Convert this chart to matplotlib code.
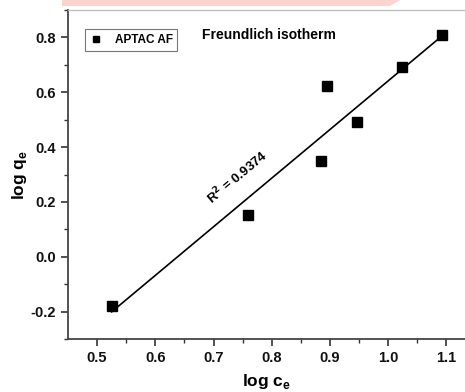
import numpy as np
import matplotlib
matplotlib.use("Agg")
import matplotlib.pyplot as plt
from matplotlib.patches import Polygon

plt.rcParams['font.family'] = ['Liberation Sans', 'DejaVu Sans']
plt.rcParams['font.weight'] = 'bold'

# Freundlich isotherm, APTAC AF
log_ce = [0.525, 0.759, 0.884, 0.895, 0.947, 1.023, 1.092]
log_qe = [-0.178, 0.153, 0.349, 0.622, 0.491, 0.691, 0.810]
r2_text = "R$^2$ = 0.9374"

x_ticks = [0.5, 0.6, 0.7, 0.8, 0.9, 1.0, 1.1]
y_ticks = [-0.2, 0.0, 0.2, 0.4, 0.6, 0.8]
xlim = (0.45, 1.132)
ylim = (-0.3, 0.9)

fig = plt.figure(figsize=(4.65, 3.92), dpi=100)
ax = fig.add_axes([68/465, 1 - 339/392, 1 - 68/465, (339 - 10)/392])

# pink band along the top edge
band = Polygon([(62/465, 1.0), (400/465, 1.0), (390/465, 1 - 6/392), (62/465, 1 - 6/392)],
               closed=True, transform=fig.transFigure, facecolor='#fbd3cf',
               edgecolor='none', zorder=-1)
fig.patches.append(band)

ax.plot(log_ce, log_qe, 's', color='black', markersize=6.5, label='APTAC AF', zorder=3)

slope, intercept = np.polyfit(log_ce, log_qe, 1)
xf = np.array([min(log_ce), max(log_ce)])
ax.plot(xf, slope * xf + intercept, color='black', linewidth=1.2)

ax.set_xlim(*xlim)
ax.set_ylim(*ylim)
ax.set_xticks(x_ticks)
ax.set_xticklabels(['%.1f' % v for v in x_ticks])
ax.set_yticks(y_ticks)
ax.set_yticklabels(['%.1f' % v for v in y_ticks])
ax.set_xticks(np.arange(0.55, 1.13, 0.1), minor=True)
ax.set_yticks([-0.3, -0.1, 0.1, 0.3, 0.5, 0.7, 0.9], minor=True)
ax.tick_params(which='major', direction='out', length=5, width=1.2, labelsize=10.5,
               colors='#333333', labelcolor='#111111')
ax.tick_params(which='minor', direction='out', length=3, width=1.0, colors='#333333')

for s in ['left', 'bottom']:
    ax.spines[s].set_color('#444444')
    ax.spines[s].set_linewidth(1.3)
ax.spines['right'].set_visible(False)
ax.spines['top'].set_color('#bbbbbb')
ax.spines['top'].set_linewidth(0.9)

ax.set_xlabel('log c$_\\mathregular{e}$', fontsize=12.5, fontweight='bold', labelpad=5)
ax.set_ylabel('log q$_\\mathregular{e}$', fontsize=12.5, fontweight='bold', labelpad=1)

leg = ax.legend(loc='upper left', bbox_to_anchor=(0.028, 0.96), fontsize=8.5,
                frameon=True, fancybox=False, handlelength=1.0, handletextpad=1.1,
                borderpad=0.4, markerscale=0.75)
leg.get_frame().set_edgecolor('#555555')
leg.get_frame().set_linewidth(0.8)

ax.text(0.68, 0.81, 'Freundlich isotherm', fontsize=10, fontweight='bold',
        va='center', ha='left')

# rotate the R^2 label along the fitted line
pos = ax.get_position()
px_per_x = pos.width * 465 / (xlim[1] - xlim[0])
px_per_y = pos.height * 392 / (ylim[1] - ylim[0])
angle = np.degrees(np.arctan(slope * px_per_y / px_per_x))
ax.text(0.741, 0.29, r2_text, fontsize=9.5, fontweight='bold', rotation=angle,
        ha='center', va='center', rotation_mode='anchor')

fig.savefig('out.png', dpi=100)
